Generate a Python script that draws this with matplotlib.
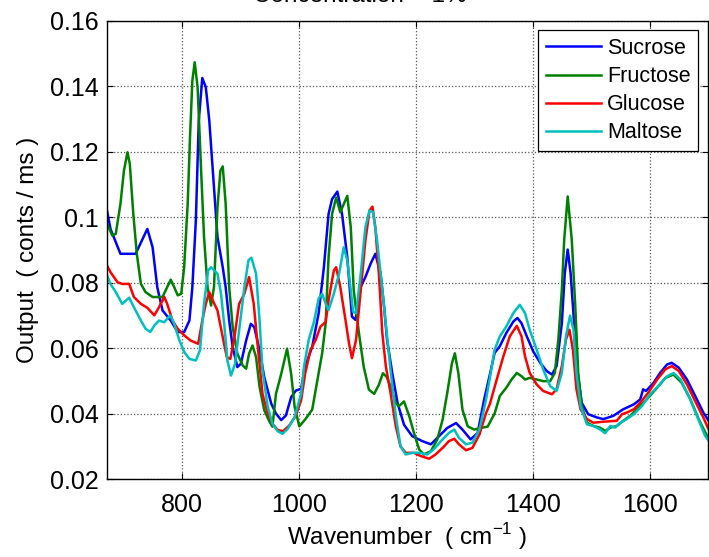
import matplotlib
matplotlib.use('Agg')
from matplotlib import pyplot as plt
from matplotlib.ticker import FuncFormatter

plt.rcParams['font.family'] = ['Liberation Sans', 'DejaVu Sans']
plt.rcParams['mathtext.fontset'] = 'custom'
plt.rcParams['mathtext.rm'] = 'Liberation Sans'

#spectra (wavenumber, output)
sucrose_x = [672, 678, 695, 721, 741, 750, 758, 767, 781, 793, 804, 813, 818, 824, 829, 835, 841, 847,
             853, 861, 870, 875, 881, 887, 895, 901, 910, 918, 924, 933, 941, 953, 961, 970, 978, 987,
             995, 1004, 1011, 1023, 1034, 1043, 1051, 1057, 1066, 1074, 1083, 1091, 1097, 1106, 1114,
             1123, 1131, 1140, 1146, 1151, 1160, 1169, 1180, 1194, 1211, 1226, 1240, 1254, 1269, 1280,
             1294, 1306, 1317, 1327, 1335, 1344, 1355, 1367, 1374, 1381, 1390, 1401, 1413, 1424, 1433,
             1441, 1450, 1455, 1460, 1465, 1471, 1477, 1484, 1495, 1510, 1521, 1538, 1555, 1573, 1584,
             1589, 1594, 1607, 1618, 1630, 1638, 1650, 1664, 1678, 1692, 1701]
sucrose_y = [0.102, 0.0964, 0.0888, 0.0888, 0.0964, 0.0908, 0.0786, 0.0715, 0.0684, 0.0649, 0.0649,
             0.0684, 0.0786, 0.099, 0.1295, 0.1425, 0.1397, 0.1295, 0.1142, 0.0939, 0.0847, 0.0786,
             0.0684, 0.0603, 0.0542, 0.0552, 0.0623, 0.0674, 0.0664, 0.0593, 0.0511, 0.043, 0.040,
             0.038, 0.0394, 0.045, 0.047, 0.0476, 0.0544, 0.0604, 0.0706, 0.0847, 0.101, 0.1055,
             0.1078, 0.101, 0.0878, 0.0696, 0.0686, 0.0787, 0.0817, 0.0858, 0.0888, 0.0827, 0.0726,
             0.0625, 0.0523, 0.0432, 0.0366, 0.0331, 0.0316, 0.0306, 0.0331, 0.0356, 0.0371, 0.0351,
             0.0321, 0.0341, 0.0442, 0.052, 0.0585, 0.0606, 0.0646, 0.0681, 0.0692, 0.0676, 0.0636,
             0.059, 0.0555, 0.053, 0.0519, 0.0545, 0.0676, 0.0828, 0.0901, 0.0828, 0.0676, 0.0524,
             0.0433, 0.0398, 0.0388, 0.0383, 0.0393, 0.0413, 0.0428, 0.0443, 0.0474, 0.0469, 0.0494,
             0.0524, 0.055, 0.0555, 0.054, 0.0504, 0.0454, 0.0403, 0.0378]

fructose_x = [672, 681, 687, 695, 701, 707, 711, 717, 723, 730, 738, 750, 767, 775, 781, 787, 793, 799,
              804, 810, 814, 818, 822, 827, 833, 838, 844, 850, 855, 861, 866, 870, 875, 881, 887, 895,
              904, 910, 915, 921, 927, 933, 941, 950, 955, 961, 970, 980, 987, 993, 1001, 1011, 1023,
              1031, 1040, 1046, 1051, 1057, 1064, 1071, 1077, 1083, 1089, 1094, 1103, 1111, 1120, 1129,
              1137, 1144, 1150, 1157, 1166, 1171, 1180, 1189, 1197, 1206, 1214, 1226, 1237, 1246, 1254,
              1262, 1267, 1273, 1280, 1289, 1300, 1311, 1323, 1335, 1344, 1355, 1364, 1373, 1381, 1387,
              1395, 1407, 1418, 1430, 1438, 1444, 1450, 1454, 1460, 1467, 1473, 1478, 1484, 1493, 1504,
              1515, 1524, 1533, 1544, 1555, 1567, 1578, 1595, 1613, 1627, 1641, 1655, 1670, 1684, 1701]
fructose_y = [0.098, 0.0944, 0.0949, 0.104, 0.1142, 0.1198, 0.1163, 0.101, 0.0888, 0.0796, 0.0771,
              0.0756, 0.0756, 0.0786, 0.0809, 0.0786, 0.0761, 0.0766, 0.0847, 0.104, 0.1244, 0.1417,
              0.1473, 0.1397, 0.1142, 0.0939, 0.0786, 0.073, 0.0786, 0.103, 0.1142, 0.1155, 0.104,
              0.0786, 0.0664, 0.0583, 0.0547, 0.0537, 0.0583, 0.0608, 0.0572, 0.0481, 0.041, 0.0375,
              0.036, 0.046, 0.0521, 0.0598, 0.0521, 0.042, 0.0361, 0.0382, 0.0412, 0.0493, 0.0584,
              0.0675, 0.0878, 0.101, 0.106, 0.1015, 0.104, 0.1065, 0.0969, 0.0777, 0.0645, 0.0544,
              0.0473, 0.046, 0.0488, 0.0523, 0.0513, 0.0483, 0.0432, 0.0422, 0.0437, 0.0392, 0.0341,
              0.029, 0.0275, 0.0285, 0.0321, 0.0381, 0.0463, 0.0554, 0.0584, 0.0523, 0.0412, 0.0361,
              0.0351, 0.0356, 0.036, 0.040, 0.0454, 0.0479, 0.0504, 0.0524, 0.0514, 0.0504, 0.0509,
              0.0504, 0.0499, 0.0499, 0.0524, 0.0626, 0.0778, 0.093, 0.1063, 0.093, 0.0727, 0.0524,
              0.0423, 0.0372, 0.0362, 0.0357, 0.0347, 0.0357, 0.0362, 0.0378, 0.0393, 0.0413, 0.0443,
              0.0479, 0.0509, 0.0519, 0.0494, 0.0443, 0.0383, 0.0322]

glucose_x = [672, 678, 690, 698, 710, 718, 730, 741, 753, 761, 770, 775, 784, 793, 804, 815, 828, 835,
             841, 847, 853, 861, 870, 877, 883, 890, 898, 907, 915, 923, 930, 938, 947, 955, 964, 973,
             984, 995, 1004, 1011, 1020, 1029, 1037, 1046, 1051, 1060, 1064, 1071, 1080, 1086, 1091,
             1098, 1106, 1114, 1121, 1126, 1131, 1137, 1143, 1149, 1157, 1166, 1174, 1183, 1197, 1209,
             1223, 1234, 1246, 1257, 1266, 1274, 1286, 1297, 1309, 1320, 1327, 1338, 1350, 1361, 1373,
             1381, 1387, 1395, 1407, 1418, 1433, 1441, 1450, 1457, 1463, 1469, 1475, 1482, 1493, 1504,
             1521, 1544, 1553, 1561, 1573, 1584, 1598, 1613, 1627, 1638, 1650, 1664, 1678, 1692, 1701]
glucose_y = [0.0852, 0.0832, 0.0801, 0.0796, 0.0796, 0.0756, 0.0735, 0.0723, 0.070, 0.0725, 0.0756,
             0.0735, 0.0684, 0.0659, 0.0639, 0.0623, 0.0613, 0.0684, 0.0735, 0.0771, 0.0745, 0.0715,
             0.0633, 0.0572, 0.0567, 0.0633, 0.0735, 0.0766, 0.0817, 0.0735, 0.0603, 0.046, 0.040,
             0.0369, 0.035, 0.0346, 0.0364, 0.0394, 0.0440, 0.0523, 0.0594, 0.0625, 0.0665, 0.068,
             0.0746, 0.0837, 0.0847, 0.0787, 0.0685, 0.0614, 0.0569, 0.0625, 0.0777, 0.0929, 0.102,
             0.1032, 0.0969, 0.0828, 0.0645, 0.0544, 0.0463, 0.0361, 0.030, 0.028, 0.028, 0.027, 0.0262,
             0.0275, 0.0295, 0.0316, 0.0323, 0.0306, 0.0288, 0.0295, 0.0336, 0.040, 0.043, 0.050,
             0.0575, 0.0636, 0.0668, 0.0636, 0.0575, 0.0524, 0.0489, 0.0469, 0.0459, 0.0474, 0.0545,
             0.0626, 0.0656, 0.0595, 0.0474, 0.0413, 0.0383, 0.0372, 0.0375, 0.0378, 0.0398, 0.0403,
             0.0413, 0.0433, 0.0464, 0.0504, 0.0535, 0.0545, 0.053, 0.0489, 0.0438, 0.0388, 0.0352]

maltose_x = [672, 678, 687, 698, 710, 718, 730, 738, 746, 753, 761, 770, 780, 787, 795, 804, 813, 824,
             831, 838, 845, 850, 861, 867, 873, 878, 884, 891, 898, 907, 914, 919, 927, 933, 938, 947,
             955, 964, 972, 981, 993, 1004, 1009, 1017, 1026, 1034, 1040, 1046, 1051, 1060, 1069, 1077,
             1083, 1089, 1093, 1098, 1106, 1114, 1121, 1127, 1134, 1143, 1150, 1157, 1166, 1174, 1183,
             1194, 1206, 1220, 1231, 1246, 1257, 1266, 1274, 1286, 1297, 1309, 1320, 1327, 1335, 1344,
             1355, 1367, 1378, 1387, 1395, 1407, 1418, 1430, 1441, 1450, 1457, 1464, 1470, 1475, 1482,
             1493, 1504, 1515, 1524, 1533, 1541, 1550, 1561, 1573, 1587, 1601, 1615, 1630, 1641, 1653,
             1667, 1681, 1695, 1701]
maltose_y = [0.0822, 0.0796, 0.0771, 0.0735, 0.0754, 0.0725, 0.0684, 0.0659, 0.0649, 0.0669, 0.0684,
             0.0679, 0.070, 0.0674, 0.0628, 0.0588, 0.0567, 0.0562, 0.0593, 0.0735, 0.0837, 0.0847,
             0.0827, 0.0766, 0.0664, 0.0562, 0.0516, 0.0552, 0.0654, 0.0786, 0.0868, 0.0876, 0.0827,
             0.0684, 0.0532, 0.042, 0.0369, 0.0346, 0.0338, 0.0353, 0.0389, 0.046, 0.0544, 0.0625,
             0.068, 0.0751, 0.0766, 0.0736, 0.0716, 0.0766, 0.0827, 0.0908, 0.0868, 0.0777, 0.0711,
             0.0706, 0.0827, 0.0969, 0.102, 0.1015, 0.0929, 0.0777, 0.0655, 0.0533, 0.0392, 0.030,
             0.0275, 0.028, 0.028, 0.0275, 0.0291, 0.0321, 0.0341, 0.0351, 0.0326, 0.0306, 0.0311,
             0.0351, 0.044, 0.051, 0.0595, 0.0636, 0.0666, 0.0707, 0.0732, 0.0707, 0.0656, 0.0595,
             0.0535, 0.0484, 0.0469, 0.0524, 0.0636, 0.0699, 0.0656, 0.0524, 0.0423, 0.0367, 0.0362,
             0.0352, 0.034, 0.0362, 0.0357, 0.0372, 0.0383, 0.0398, 0.0423, 0.0459, 0.0484, 0.0514,
             0.0524, 0.0504, 0.0454, 0.0393, 0.0332, 0.0317]

x_ticks = [800, 1000, 1200, 1400, 1600]
y_ticks = [0.02, 0.04, 0.06, 0.08, 0.10, 0.12, 0.14, 0.16]

fig = plt.figure(figsize=(7.09, 5.57), dpi=100)
ax = fig.add_axes([0.1509, 0.140, 0.8477, 0.8228])

ax.plot(sucrose_x, sucrose_y, color='#0000ff', lw=1.8, label='Sucrose')
ax.plot(fructose_x, fructose_y, color='#008000', lw=1.8, label='Fructose')
ax.plot(glucose_x, glucose_y, color='#ff0000', lw=1.8, label='Glucose')
ax.plot(maltose_x, maltose_y, color='#00bfbf', lw=1.8, label='Maltose')

ax.set_xlim(672, 1700)
ax.set_ylim(0.02, 0.16)
ax.set_xticks(x_ticks)
ax.set_yticks(y_ticks)
ax.yaxis.set_major_formatter(FuncFormatter(lambda v, p: '%g' % v))
ax.tick_params(direction='in', length=4, width=0.8, top=True, right=True, labelsize=18)
ax.tick_params(axis='x', pad=10)
ax.tick_params(axis='y', pad=6)
ax.grid(True, linestyle=':', color='#555555', linewidth=0.9)
for s in ax.spines.values():
    s.set_linewidth(1.0)

ax.set_xlabel(r'Wavenumber  ( cm$^{-1}$ )', fontsize=17.5, labelpad=3)
ax.set_ylabel('Output  ( conts / ms )', fontsize=17.5, labelpad=8)

#title sits mostly above the top edge, as in the original
fig.text(360 / 709, 1 - 2 / 557, 'Concentration = 1%', fontsize=17.5, ha='center', va='baseline')

leg = ax.legend(loc='upper right', fontsize=15.5, frameon=True, fancybox=False,
                edgecolor='black', framealpha=1, handlelength=2.55, borderaxespad=0.45,
                labelspacing=0.33, handletextpad=0.3, borderpad=0.35)
leg.get_frame().set_linewidth(0.9)

fig.savefig('out.png', dpi=100)
